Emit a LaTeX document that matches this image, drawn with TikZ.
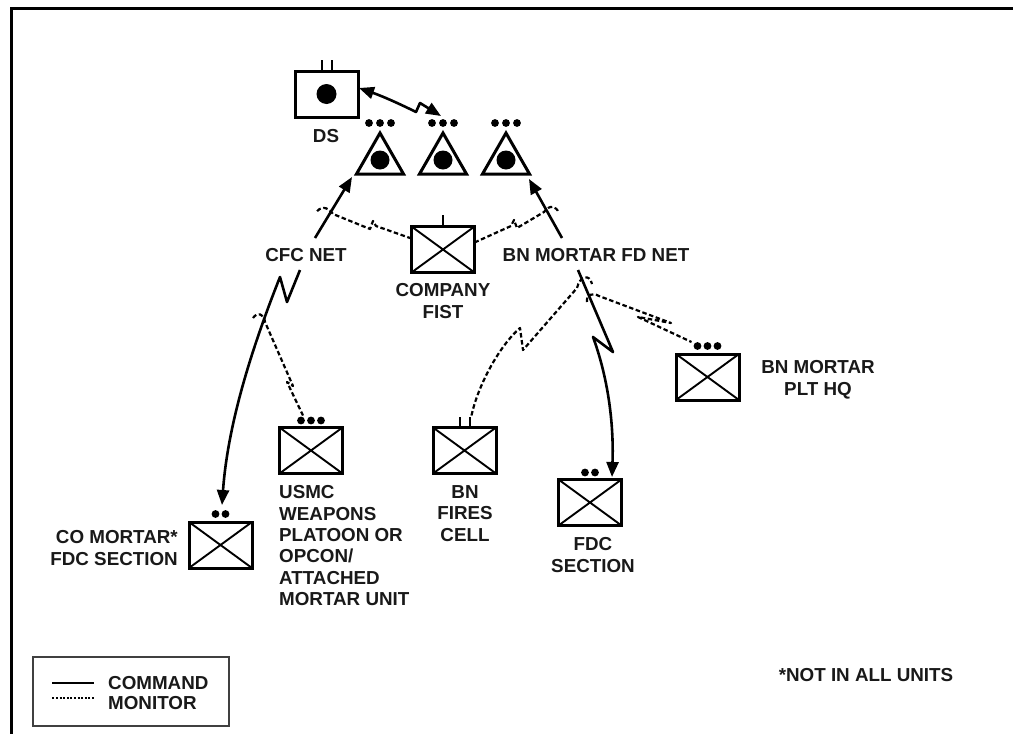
\documentclass[tikz,border=0pt]{standalone}
\usepackage{fontspec}
\setmainfont{Liberation Sans}
\usetikzlibrary{arrows.meta}

\begin{document}
\begin{tikzpicture}[x=1pt,y=-1pt,
  unitbox/.style={draw, line width=3pt, minimum width=63pt, minimum height=46pt,
    inner sep=0pt, outer sep=0pt,
    path picture={\draw[line width=1.9pt]
      (path picture bounding box.south west) -- (path picture bounding box.north east)
      (path picture bounding box.north west) -- (path picture bounding box.south east);}},
  lbl/.style={font=\bfseries\fontsize{18.8}{21.3}\selectfont, inner sep=0pt, text=black!90},
  cmd/.style={line width=2.6pt, line join=round},
  mon/.style={line width=2.2pt, dash pattern=on 4.5pt off 2.6pt, line join=round},
  tip/.style={-{Triangle[length=15pt,width=12pt]}},
  twotips/.style={{Triangle[length=15pt,width=12pt]}-{Triangle[length=15pt,width=12pt]}},
  tickln/.style={line width=2.2pt},
  sym/.style={line width=3pt, line join=miter}]

\useasboundingbox (0,0) rectangle (1013,734);

% page frame
\draw[line width=3pt] (11,734) -- (11,8.5) -- (1013,8.5);

% direct support unit
\node[draw, line width=3pt, minimum width=63pt, minimum height=46pt, inner sep=0pt] (ds) at (326.5,94) {};
\fill (ds.center) circle (10pt);
\draw[tickln] ([xshift=-4.5pt]ds.north) -- ++(0,-10);
\draw[tickln] ([xshift=5.5pt]ds.north) -- ++(0,-10);
\node[lbl] (dslbl) at (326,136) {DS};

% artillery battalions
\foreach \n/\cx in {t1/380, t2/443, t3/506} {
  \coordinate (\n) at (\cx,174);
  \draw[sym] (\n) ++(-23.5,0) -- ++(23.5,-41) -- ++(23.5,41) -- cycle;
  \fill (\n) ++(0,-14) circle (9.5pt);
  \foreach \d in {-11,0,11} \fill (\n) ++(\d,-51) circle (3.9pt);
}

% units
\node[unitbox] (fist) at (443,249.5) {};
\node[unitbox] (usmc) at (311,450.5) {};
\node[unitbox] (co) at (220.5,545) {};
\node[unitbox] (fires) at (464.5,450.5) {};
\node[unitbox] (fdc) at (590,502.5) {};
\node[unitbox] (plt) at (707.5,377) {};

% echelon marks
\draw[tickln] (fist.north) -- ++(0,-12);
\draw[tickln] ([xshift=-4.5pt]fires.north) -- ++(0,-11);
\draw[tickln] ([xshift=5.5pt]fires.north) -- ++(0,-11);
\foreach \d in {-10,0,10} {
  \fill ([xshift=\d pt,yshift=7pt]usmc.north) circle (3.9pt);
  \fill ([xshift=\d pt,yshift=8pt]plt.north) circle (3.9pt);
}
\foreach \d in {-5,5} {
  \fill ([xshift=\d pt,yshift=8pt]co.north) circle (3.9pt);
  \fill ([xshift=\d pt,yshift=7pt]fdc.north) circle (3.9pt);
}

% labels
\node[lbl] (cfc) at (306,255) {CFC NET};
\node[lbl] (bnnet) at (596,255) {BN MORTAR FD NET};
\node[lbl, align=center, anchor=north] (fistlbl) at (443,283.5) {COMPANY\\FIST};
\node[lbl, align=left, anchor=north west] (usmclbl) at (279,485.5)
  {USMC\\WEAPONS\\PLATOON OR\\OPCON/\\ATTACHED\\MORTAR UNIT};
\node[lbl, align=right, anchor=north east] (colbl) at (178,530.5) {CO MORTAR*\\FDC SECTION};
\node[lbl, align=center, anchor=north] (fireslbl) at (465,485.5) {BN\\FIRES\\CELL};
\node[lbl, align=center, anchor=north] (fdclbl) at (593,537.5) {FDC\\SECTION};
\node[lbl, align=center, anchor=north] (pltlbl) at (818,360.5) {BN MORTAR\\PLT HQ};
\node[lbl] (note) at (866,675) {*NOT IN ALL UNITS};

% connector end points
\coordinate (dsE) at (359,88);
\coordinate (t2in) at (441,116);
\coordinate (cfcUp) at (315,238);
\coordinate (t1in) at (352,177);
\coordinate (bnUp) at (562,238);
\coordinate (t3in) at (529,179);
\coordinate (cfcDn) at (300,270);
\coordinate (coTip) at (222,505);
\coordinate (bnDn) at (578,270);
\coordinate (fdcTip) at (612,477);
\coordinate (fistW) at ([yshift=-12pt]fist.north west);
\coordinate (fistE) at ([yshift=-16pt]fist.north east);
\coordinate (usmcTop) at ([xshift=-8pt,yshift=12pt]usmc.north);
\coordinate (firesTop) at ([xshift=7pt,yshift=12pt]fires.north);
\coordinate (pltTop) at ([xshift=-16pt,yshift=12pt]plt.north);

% command nets
\draw[cmd, twotips]
  (dsE) .. controls (382,96) and (400,104) .. (416,112) -- (420,103) -- (t2in);
\draw[cmd, tip] (cfcUp) -- (t1in);
\draw[cmd, tip] (bnUp) -- (t3in);
\draw[cmd, tip] (cfcDn) -- (287,302) -- (280,277)
  .. controls (255,340) and (228,420) .. (coTip);
\draw[cmd, tip] (bnDn) -- (613,352) -- (593,337)
  .. controls (607,375) and (614,420) .. (fdcTip);

% monitor nets
\draw[mon] (fistW) -- (376,226) -- (373,221) -- (370,229) -- (333,214)
  .. controls (327,206) and (320,206) .. (316,213);
\draw[mon] (fistE) -- (511,226) -- (514,220) -- (517,228) -- (544,212)
  .. controls (550,204) and (556,206) .. (559,213);
\draw[mon] (253,318) .. controls (257,312) and (264,313) .. (265,322)
  -- (293,386) -- (287,382) -- (usmcTop);
\draw[mon] (firesTop) .. controls (478,385) and (500,345) .. (520,328)
  -- (523,350) -- (577,288) .. controls (580,275) and (590,274) .. (592,284);
\draw[mon] (587,302) .. controls (586,295) and (592,292) .. (599,296)
  -- (671,323) -- (638,317) -- (pltTop);

% legend
\node[draw=black!75, line width=1.2pt, minimum width=196pt, minimum height=69pt, inner sep=0pt]
  (legend) at (131,691.5) {};
\coordinate (cmdA) at ([xshift=20pt,yshift=8.5pt]legend.west);
\coordinate (cmdB) at ([xshift=62pt,yshift=8.5pt]legend.west);
\coordinate (monA) at ([xshift=20pt,yshift=-6.5pt]legend.west);
\coordinate (monB) at ([xshift=62pt,yshift=-6.5pt]legend.west);
\draw[cmd] (cmdA) -- (cmdB);
\draw[line width=1.8pt, dash pattern=on 2pt off 1.6pt] (monA) -- (monB);
\node[lbl, anchor=west] (cmdlbl) at (108,683) {COMMAND};
\node[lbl, anchor=west] (monlbl) at (108,703) {MONITOR};

\end{tikzpicture}
\end{document}
